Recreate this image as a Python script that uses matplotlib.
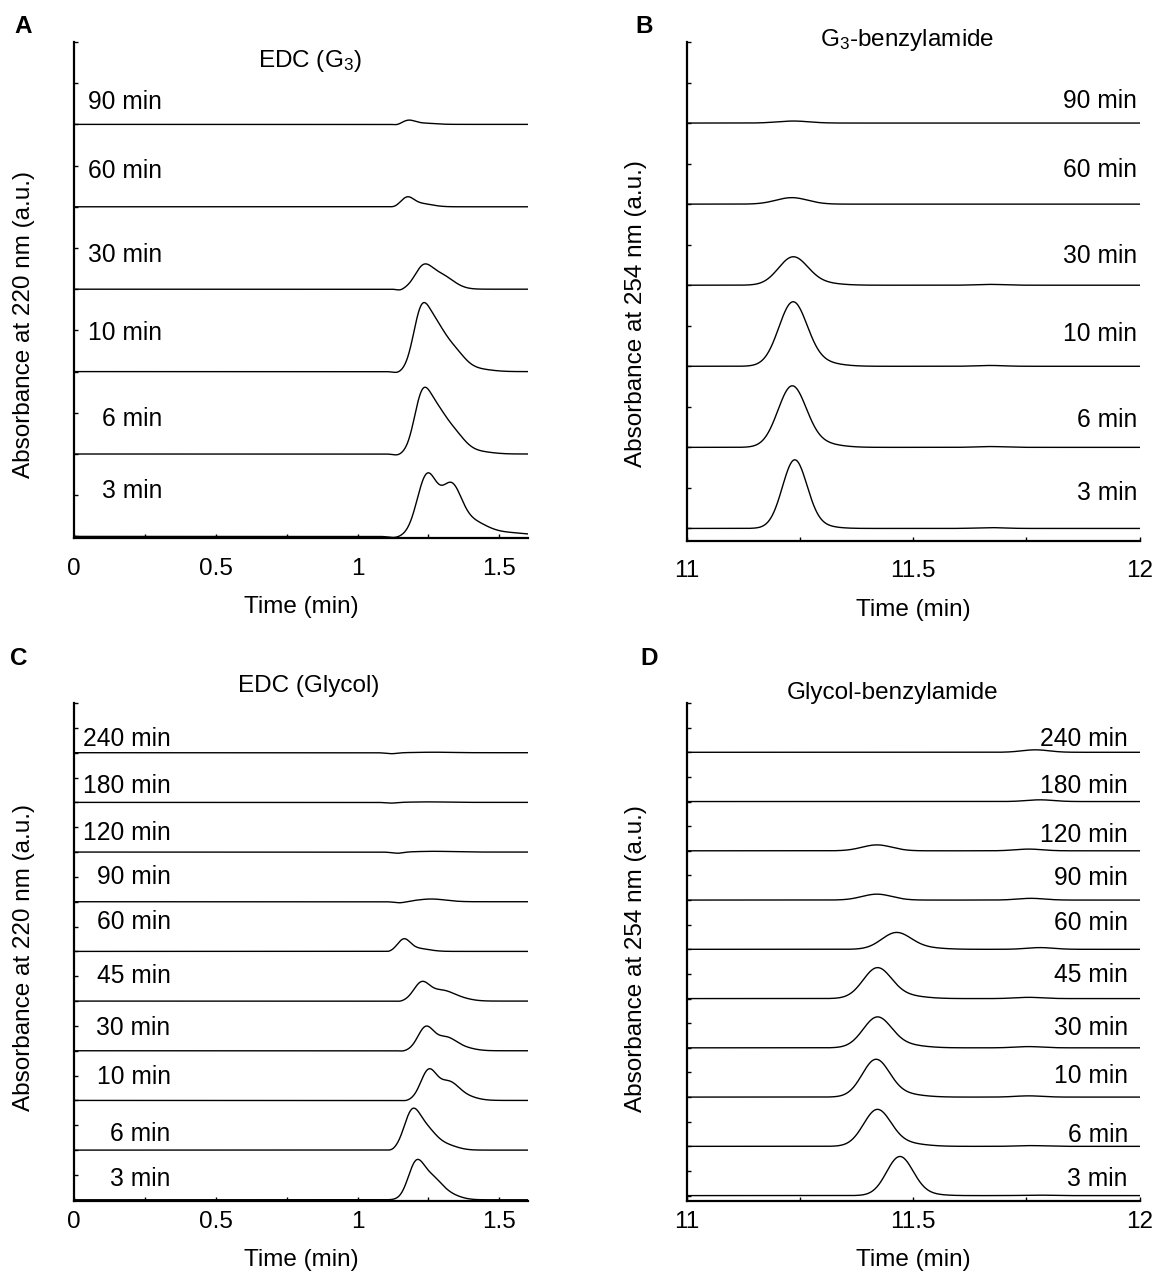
import numpy as np
import matplotlib.pyplot as plt
from matplotlib.ticker import MultipleLocator

plt.rcParams['font.family'] = ['Liberation Sans', 'DejaVu Sans']
plt.rcParams['mathtext.fontset'] = 'custom'
plt.rcParams['mathtext.rm'] = 'Liberation Sans'
plt.rcParams['mathtext.it'] = 'Liberation Sans:italic'

# each trace = list of peaks (retention time, height, width), height in a.u.
# traces are stacked bottom to top, 2 units apart

# A - EDC (G3), 220 nm
a_labels = ['3 min', '6 min', '10 min', '30 min', '60 min', '90 min']
a_label_y = [1.1, 2.86, 4.94, 6.83, 8.88, 10.55]
a_peaks = [
    [(1.245, 1.47, 0.035), (1.33, 1.1, 0.035), (1.40, 0.3, 0.05), (1.5, 0.1, 0.1), (1.13, -0.03, 0.02)],
    [(1.225, 1.15, 0.028), (1.272, 0.9, 0.035), (1.335, 0.5, 0.04), (1.42, 0.06, 0.05), (1.14, -0.03, 0.015)],
    [(1.222, 1.2, 0.028), (1.27, 0.95, 0.035), (1.335, 0.5, 0.04), (1.42, 0.06, 0.05), (1.14, -0.03, 0.015)],
    [(1.23, 0.45, 0.03), (1.29, 0.35, 0.045), (1.15, -0.03, 0.012)],
    [(1.175, 0.2, 0.022), (1.22, 0.08, 0.04), (1.13, -0.015, 0.012)],
    [(1.18, 0.09, 0.022), (1.23, 0.03, 0.04), (1.14, -0.02, 0.012)],
]

# B - G3-benzylamide, 254 nm
b_labels = ['3 min', '6 min', '10 min', '30 min', '60 min', '90 min']
b_label_y = [0.88, 2.68, 4.8, 6.73, 8.83, 10.54]
b_peaks = [
    [(11.238, 1.62, 0.027), (11.27, 0.1, 0.04), (11.67, 0.02, 0.03)],
    [(11.232, 1.45, 0.031), (11.28, 0.12, 0.045), (11.67, 0.02, 0.03)],
    [(11.234, 1.52, 0.031), (11.28, 0.12, 0.045), (11.67, 0.02, 0.03)],
    [(11.234, 0.66, 0.032), (11.28, 0.07, 0.045), (11.67, 0.02, 0.03)],
    [(11.232, 0.16, 0.035)],
    [(11.235, 0.05, 0.035)],
]

# C - EDC (Glycol), 220 nm
c_labels = ['3 min', '6 min', '10 min', '30 min', '45 min', '60 min',
            '90 min', '120 min', '180 min', '240 min']
c_label_y = [0.85, 2.63, 4.96, 6.91, 9.02, 11.17, 13.0, 14.75, 16.67, 18.57]
c_peaks = [
    [(1.205, 1.35, 0.028), (1.26, 0.8, 0.035), (1.32, 0.2, 0.04)],
    [(1.19, 1.35, 0.028), (1.24, 0.8, 0.035), (1.31, 0.2, 0.04), (1.12, -0.03, 0.012)],
    [(1.25, 1.17, 0.028), (1.32, 0.7, 0.035), (1.38, 0.15, 0.04), (1.17, -0.02, 0.012)],
    [(1.24, 0.92, 0.028), (1.31, 0.5, 0.035), (1.37, 0.12, 0.04), (1.16, -0.02, 0.012)],
    [(1.225, 0.7, 0.028), (1.295, 0.4, 0.04), (1.36, 0.1, 0.04), (1.15, -0.02, 0.012)],
    [(1.163, 0.45, 0.022), (1.21, 0.12, 0.04), (1.11, -0.02, 0.012)],
    [(1.15, -0.05, 0.02), (1.26, 0.11, 0.05)],
    [(1.14, -0.05, 0.02), (1.27, 0.03, 0.06)],
    [(1.12, -0.03, 0.02), (1.25, 0.02, 0.06)],
    [(1.12, -0.04, 0.02), (1.27, 0.02, 0.06)],
]

# D - Glycol-benzylamide, 254 nm
d_labels = c_labels
d_label_y = [0.67, 2.45, 4.84, 6.79, 8.94, 11.05, 12.9, 14.66, 16.63, 18.54]
d_peaks = [
    [(11.47, 1.52, 0.029), (11.505, 0.1, 0.04), (11.77, 0.02, 0.03)],
    [(11.42, 1.42, 0.03), (11.47, 0.15, 0.045), (11.76, 0.03, 0.03)],
    [(11.417, 1.45, 0.03), (11.465, 0.15, 0.045), (11.755, 0.05, 0.03)],
    [(11.42, 1.18, 0.031), (11.47, 0.14, 0.045), (11.755, 0.05, 0.03)],
    [(11.42, 1.18, 0.031), (11.47, 0.14, 0.045), (11.755, 0.05, 0.03)],
    [(11.462, 0.64, 0.032), (11.51, 0.08, 0.045), (11.78, 0.07, 0.03)],
    [(11.42, 0.24, 0.033), (11.76, 0.07, 0.03)],
    [(11.42, 0.24, 0.033), (11.755, 0.07, 0.03)],
    [(11.78, 0.07, 0.03)],
    [(11.77, 0.1, 0.03)],
]

FS = 17.5


def trace(x, peaks):
    y = np.zeros_like(x)
    for c, h, s in peaks:
        y += h * np.exp(-0.5 * ((x - c) / s) ** 2)
    return y


def panel(rect, letter, letter_xy, title, title_xy, ylabel, ylabel_y, xlim, ylim,
          xticks, labels, label_y, label_x, peaks, xpad, lpad):
    ax = fig.add_axes(rect)
    x = np.linspace(xlim[0], xlim[1], 1200)
    for i, pk in enumerate(peaks):
        ax.plot(x, 2 * i + trace(x, pk), color='black', lw=1.0)
        ax.text(label_x, label_y[i], labels[i], ha='right', va='center', fontsize=17.7)
    ax.text(title_xy[0], title_xy[1], title, ha='center', va='center', fontsize=FS)
    ax.set_xlim(xlim)
    ax.set_ylim(ylim)
    ax.set_xticks(xticks)
    ax.set_xticklabels([f'{t:g}' for t in xticks])
    ax.xaxis.set_minor_locator(MultipleLocator(0.25))
    ax.set_yticks(np.arange(0, ylim[1] + 0.01, 1))
    ax.set_yticklabels([])
    ax.tick_params(direction='in', length=3, width=1, labelsize=FS)
    ax.tick_params(axis='x', pad=xpad)
    ax.tick_params(which='minor', direction='in', length=3, width=1)
    for s in ['top', 'right']:
        ax.spines[s].set_visible(False)
    for s in ['left', 'bottom']:
        ax.spines[s].set_linewidth(1.6)
    ax.set_xlabel('Time (min)', fontsize=FS, labelpad=lpad)
    ax.set_ylabel(ylabel, fontsize=17.5)
    ax.yaxis.set_label_coords(-0.087, ylabel_y)
    fig.text(letter_xy[0], letter_xy[1], letter,
             fontsize=FS, fontweight='bold', ha='center', va='center')
    return ax


fig = plt.figure(figsize=(11.64, 12.72), dpi=100)

panel([0.0638, 0.577, 0.3895, 0.390], 'A', (0.020, 0.979), r'EDC (G$_3$)', (0.83, 11.55),
      'Absorbance at 220 nm (a.u.)', 0.43, (0, 1.6), (-0.04, 12),
      [0, 0.5, 1, 1.5], a_labels, a_label_y, 0.31, a_peaks, 14, 12)

panel([0.590, 0.575, 0.389, 0.392], 'B', (0.553, 0.979), r'G$_3$-benzylamide', (11.487, 12.05),
      'Absorbance at 254 nm (a.u.)', 0.455, (11, 12), (-0.3, 12),
      [11, 11.5, 12], b_labels, b_label_y, 11.995, b_peaks, 14, 12)

panel([0.0638, 0.0558, 0.3895, 0.3915], 'C', (0.016, 0.4827), 'EDC (Glycol)', (0.826, 20.68),
      'Absorbance at 220 nm (a.u.)', 0.49, (0, 1.6), (-0.05, 20),
      [0, 0.5, 1, 1.5], c_labels, c_label_y, 0.34, c_peaks, 7, 12)

panel([0.590, 0.0558, 0.389, 0.3915], 'D', (0.558, 0.4827), 'Glycol-benzylamide', (11.455, 20.4),
      'Absorbance at 254 nm (a.u.)', 0.487, (11, 12), (-0.22, 20),
      [11, 11.5, 12], d_labels, d_label_y, 11.974, d_peaks, 7, 12)

fig.savefig('out.png', dpi=100)
